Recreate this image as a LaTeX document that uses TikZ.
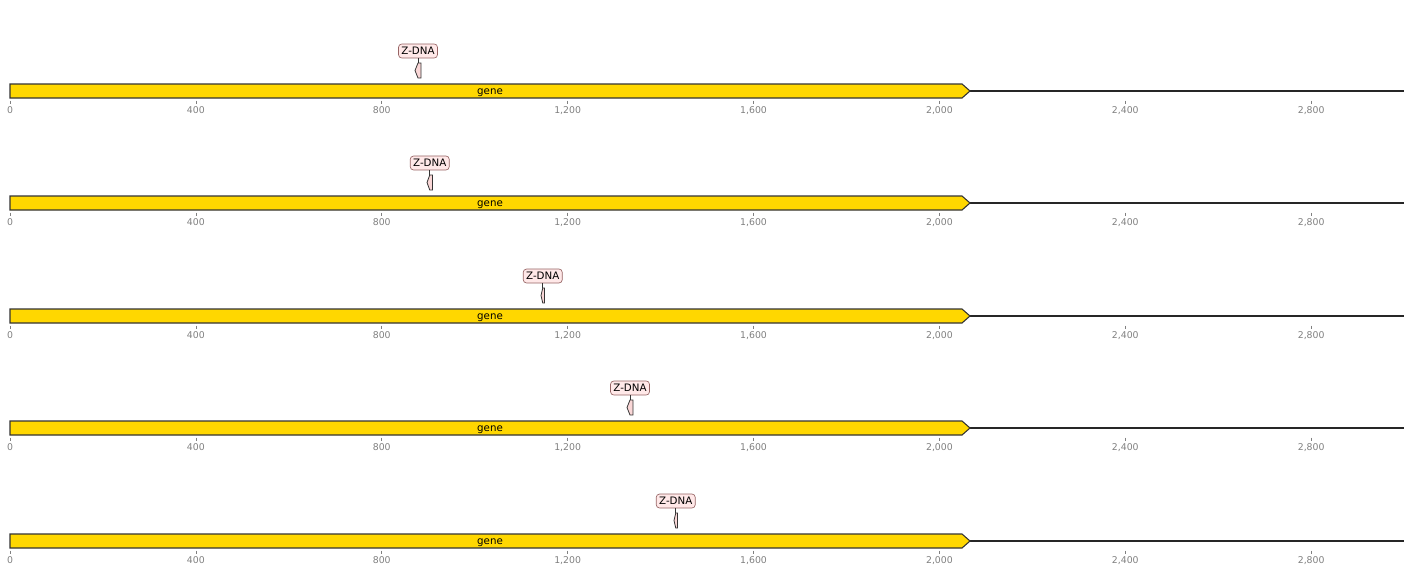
\documentclass[tikz,border=0pt]{standalone}
\usepackage{fontspec}
\setmainfont{DejaVu Sans}
\usepackage{tikz}

\definecolor{genegold}{RGB}{255,215,0}
\definecolor{zdnapink}{RGB}{250,215,215}
\definecolor{zdnalight}{RGB}{255,232,232}
\definecolor{zdnaedge}{RGB}{150,100,100}
\definecolor{tickgray}{RGB}{128,128,128}

\tikzset{
  genebox/.style={draw=black!80, fill=genegold, line width=0.8pt},
  trackline/.style={draw=black!85, line width=1.1pt},
  zdnashape/.style={draw=black!80, fill=zdnapink, line width=0.6pt},
  zdnalabel/.style={draw=zdnaedge, fill=zdnalight, rounded corners=2.5pt, line width=0.5pt,
    inner xsep=2.2pt, inner ysep=2.45pt, text height=5.6pt, text depth=0pt,
    font=\fontsize{7.7}{9}\selectfont},
  genelabel/.style={inner sep=0pt, anchor=base, font=\fontsize{7.7}{9}\selectfont},
  ticklabel/.style={inner sep=0pt, anchor=base, text=tickgray, font=\fontsize{7}{8}\selectfont},
}

\begin{document}
\begin{tikzpicture}[x=0.75pt,y=0.75pt,yscale=-1,xscale=1]
    \useasboundingbox (0,0) rectangle (1412,575);

    \foreach \yy/\za/\zb [count=\i] in {91/415/421, 203/427/432.5, 316/541/544.5, 428/627/633, 541/674/677.5}{
      %Track line [id:track\i]
      \coordinate (tip\i) at (970,\yy);
      \coordinate (end\i) at (1404,\yy);
      \draw [trackline] (tip\i) -- (end\i);
      %Shape: gene arrow
      \draw [genebox] (10,\yy-7) -- (962,\yy-7) -- (tip\i) -- (962,\yy+7) -- (10,\yy+7) -- cycle;
      % Text Node
      \node [genelabel] (gene\i) at (490,\yy+3) {gene};
      %Axis ticks
      \foreach \t/\lab in {0/0,400/400,800/800,1200/{1,200},1600/{1,600},2000/{2,000},2400/{2,400},2800/{2,800}}{
        \draw [tickgray, line width=0.5pt] ({10+0.4647*\t},\yy+9.5) -- ({10+0.4647*\t},\yy+12.5);
        \node [ticklabel] (tk\i-\t) at ({10+0.4647*\t},\yy+22.3) {\lab};
      }
      %Shape: Z-DNA feature (reverse strand)
      \pgfmathsetmacro{\zm}{(\za+\zb)/2}
      \draw [zdnashape] (\zb,\yy-28) -- (\zb,\yy-13) -- (\zm,\yy-13) -- (\za,\yy-20.5) -- (\zm,\yy-28) -- cycle;
      \coordinate (ztop\i) at (\zm,\yy-28);
      % Text Node
      \node [zdnalabel] (zlab\i) at (\zm,\yy-40) {Z-DNA};
      \draw [black!80, line width=0.5pt] (zlab\i.south) -- (ztop\i);
    }
\end{tikzpicture}
\end{document}
